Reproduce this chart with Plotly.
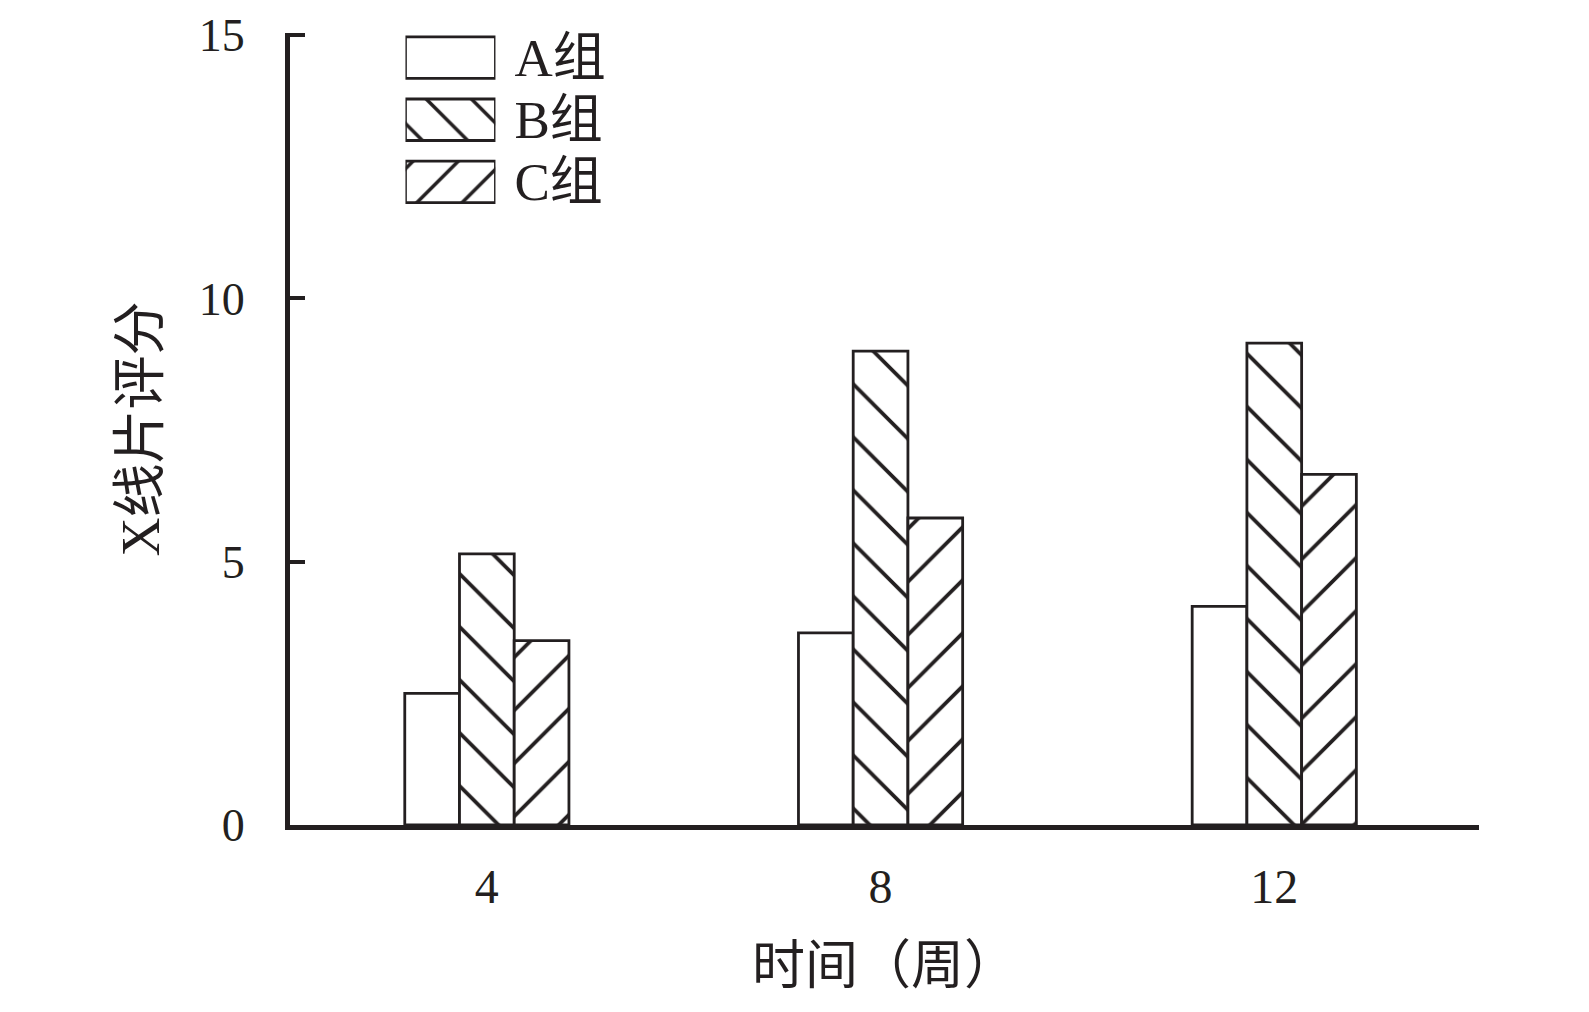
import plotly.graph_objects as go

categories = ["4", "8", "12"]
group_names = ["A组", "B组", "C组"]
a_vals = [2.5, 3.65, 4.15]
b_vals = [5.15, 9.0, 9.15]
c_vals = [3.5, 5.83, 6.66]
y_ticks = [0, 5, 10, 15]
x_title = "时间（周）"
y_title = "X线片评分"
legend_key_len = [1, 1, 1]

FONT = "Liberation Serif, Noto Sans CJK SC, serif"
INK = "#231f20"
hatches = ["", "\\", "/"]

fig = go.Figure()
for name, vals, shp in zip(group_names, [a_vals, b_vals, c_vals], hatches):
    fig.add_trace(go.Bar(
        x=categories, y=vals, name=name, showlegend=False, cliponaxis=False,
        hoverinfo="skip",
        marker=dict(color="white", line=dict(color=INK, width=2.8),
                    pattern=dict(shape=shp, size=37.5, solidity=0.1,
                                 fgcolor=INK, bgcolor="white", fgopacity=1)),
    ))

# legend keys drawn as a small inset bar chart
fig.add_trace(go.Bar(
    x=legend_key_len, y=group_names, orientation="h", xaxis="x2", yaxis="y2",
    width=0.668, showlegend=False, cliponaxis=False, hoverinfo="skip",
    marker=dict(color="white", line=dict(color=INK, width=2.8),
                pattern=dict(shape=hatches, size=32, solidity=0.11,
                             fgcolor=INK, bgcolor="white", fgopacity=1)),
))

fig.update_layout(
    width=1573, height=996,
    margin=dict(l=282, r=102, t=25, b=179, autoexpand=False),
    paper_bgcolor="white", plot_bgcolor="white",
    font=dict(family=FONT, color=INK),
    barmode="group", bargap=0.583, bargroupgap=0,
    showlegend=False,
    xaxis=dict(
        type="category", range=[-0.5, 2.52], automargin=False,
        showline=True, linewidth=5, linecolor=INK,
        ticks="", showgrid=False, zeroline=False,
        tickfont=dict(size=48), ticklabelstandoff=15,
        title=dict(text=x_title, font=dict(size=53), standoff=37),
    ),
    yaxis=dict(
        range=[0, 15.04], tickmode="array", tickvals=y_ticks, automargin=False,
        ticklabeloverflow="allow",
        showline=True, linewidth=5, linecolor=INK,
        ticks="inside", ticklen=15, tickwidth=4, tickcolor=INK,
        showgrid=False, zeroline=False,
        tickfont=dict(size=46), ticklabelstandoff=31,
        title=dict(text=y_title, font=dict(size=54), standoff=23),
    ),
    xaxis2=dict(domain=[0.0971, 0.1728], range=[0, 1], anchor="y2",
                visible=False, showgrid=False, zeroline=False, automargin=False),
    yaxis2=dict(domain=[0.77, 1.0], range=[2.536, -0.397], anchor="x2",
                type="category", tickmode="array", tickvals=group_names,
                ticktext=group_names, side="right", showline=False, ticks="",
                showgrid=False, zeroline=False, automargin=False,
                tickfont=dict(size=53), ticklabelstandoff=18),
)

fig.write_html("out.html")
